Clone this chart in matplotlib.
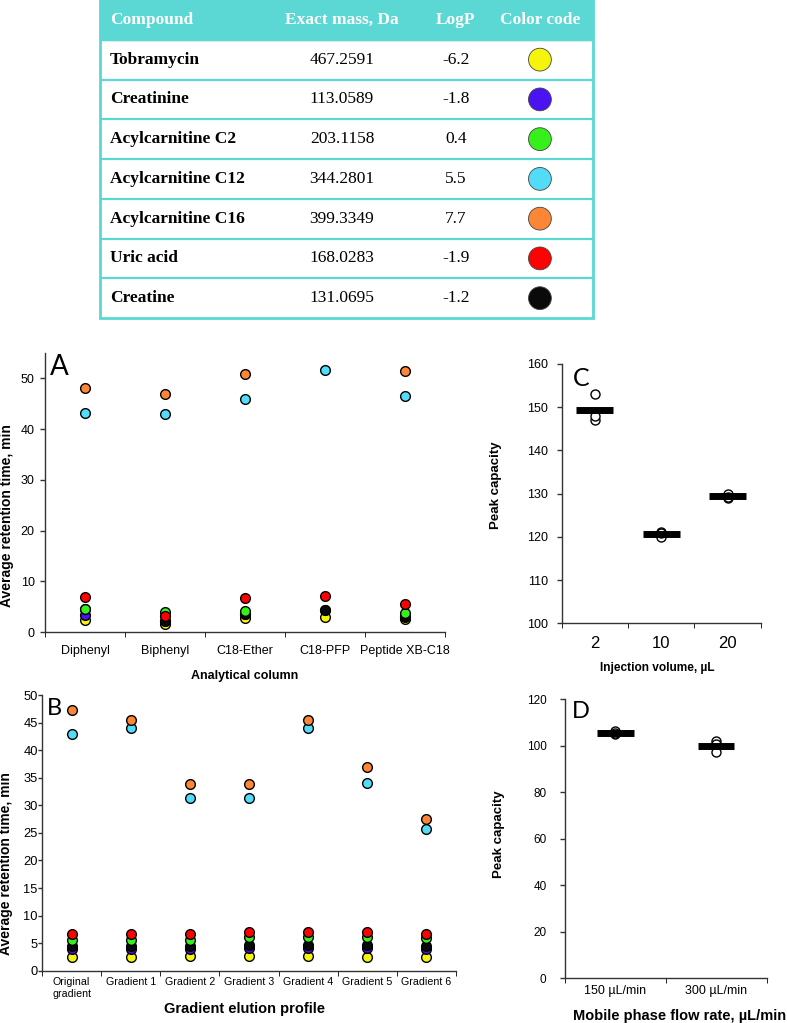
import numpy as np
import matplotlib.pyplot as plt
from matplotlib.patches import Rectangle

plt.rcParams['font.family'] = ['Liberation Sans', 'DejaVu Sans']

# table
compounds = ['Tobramycin', 'Creatinine', 'Acylcarnitine C2', 'Acylcarnitine C12',
             'Acylcarnitine C16', 'Uric acid', 'Creatine']
exact_mass = [467.2591, 113.0589, 203.1158, 344.2801, 399.3349, 168.0283, 131.0695]
log_p = [-6.2, -1.8, 0.4, 5.5, 7.7, -1.9, -1.2]
colors = ['#f5f50a', '#4b12f2', '#36f01c', '#52dcf8', '#fb8636', '#fc0202', '#0a0a0a']
header = ['Compound', 'Exact mass, Da', 'LogP', 'Color code']

# panel A: retention time per analytical column
columns = ['Diphenyl', 'Biphenyl', 'C18-Ether', 'C18-PFP', 'Peptide XB-C18']
a_tobramycin = [2.4, 1.5, 2.7, 2.9, 2.6]
a_creatinine = [3.3, 2.1, 3.6, 4.3, 3.0]
a_c2 = [4.6, 4.0, 4.1, np.nan, 3.8]
a_c12 = [43.2, 43.0, 45.9, 51.6, 46.5]
a_c16 = [48.1, 46.9, 50.9, np.nan, 51.5]
a_uric = [6.9, 3.1, 6.8, 7.1, 5.5]
a_creatine = [4.6, 2.2, 3.6, 4.4, 3.1]

# panel B: retention time per gradient
gradients = ['Original\ngradient', 'Gradient 1', 'Gradient 2', 'Gradient 3',
             'Gradient 4', 'Gradient 5', 'Gradient 6']
b_tobramycin = [2.5, 2.5, 2.6, 2.6, 2.6, 2.5, 2.5]
b_creatinine = [4.0, 4.0, 4.0, 4.1, 4.1, 4.1, 4.0]
b_c2 = [5.6, 5.5, 5.5, 6.1, 6.1, 6.1, 5.9]
b_c12 = [42.9, 44.0, 31.3, 31.3, 44.0, 34.0, 25.7]
b_c16 = [47.3, 45.5, 33.8, 33.8, 45.5, 36.9, 27.5]
b_uric = [6.6, 6.6, 6.7, 7.0, 7.0, 7.0, 6.7]
b_creatine = [4.5, 4.5, 4.5, 4.6, 4.6, 4.6, 4.4]

# panel C: peak capacity vs injection volume
inj_volumes = ['2', '10', '20']
c_reps = [[153.0, 147.1, 148.0], [121.2, 120.0, 120.9], [130.0, 129.0, 129.3]]

# panel D: peak capacity vs flow rate
flow_rates = ['150 µL/min', '300 µL/min']
d_reps = [[106.2, 105.0, 105.5], [101.8, 97.2, 100.5]]

teal = '#5bd8d4'
spine_col = '#333333'

fig = plt.figure(figsize=(7.87, 10.23), dpi=100)

# ---------------- table
ax_t = fig.add_axes([0.127, 0.6891, 0.6264, 0.3109])
ax_t.set_xlim(0, 1)
ax_t.set_ylim(8, 0)
ax_t.axis('off')
ax_t.add_patch(Rectangle((0, 0), 1, 1, color=teal, clip_on=False))
ax_t.add_patch(Rectangle((0, 0), 1, 8, fill=False, edgecolor=teal, lw=2, clip_on=False))
ax_t.hlines(np.arange(1, 8), 0, 1, color=teal, lw=1.6)

col_x = [0.02, 0.491, 0.722, 0.8925]
serif = 'Liberation Serif'
for j, h in enumerate(header):
    ax_t.text(col_x[j], 0.5, h, ha='left' if j == 0 else 'center', va='center',
              color='white', fontsize=12.5, fontweight='bold', family=serif)
for i, name in enumerate(compounds):
    y = i + 1.5
    ax_t.text(col_x[0], y, name, ha='left', va='center', fontsize=12.5,
              fontweight='bold', family=serif)
    ax_t.text(col_x[1], y, f'{exact_mass[i]:.4f}', ha='center', va='center',
              fontsize=12.5, family=serif)
    ax_t.text(col_x[2], y, f'{log_p[i]}', ha='center', va='center',
              fontsize=12.5, family=serif)
ax_t.scatter([col_x[3]] * len(compounds), np.arange(len(compounds)) + 1.5, s=270,
             c=colors, edgecolors='#444444', linewidths=0.6, clip_on=False, zorder=3)


def style(ax):
    for s in ['top', 'right']:
        ax.spines[s].set_visible(False)
    for s in ['left', 'bottom']:
        ax.spines[s].set_color(spine_col)
        ax.spines[s].set_linewidth(1.0)
    ax.tick_params(colors=spine_col, labelcolor='black', width=1.0)


def category_axis(ax, labels, fs, pad):
    n = len(labels)
    ax.set_xlim(0.5, n + 0.5)
    ax.set_xticks(np.arange(1, n + 1))
    ax.set_xticklabels(labels, fontsize=fs)
    ax.set_xticks(np.arange(0.5, n + 1), minor=True)
    ax.tick_params(axis='x', which='major', length=0, pad=pad)
    ax.tick_params(axis='x', which='minor', length=3.5, direction='out')


# drawing order so the overlaps look like the original
order_idx = [0, 1, 6, 2, 3, 4, 5]

# ---------------- panel A
ax_a = fig.add_axes([0.0572, 0.3822, 0.5083, 0.2727])
style(ax_a)
series_a = [a_tobramycin, a_creatinine, a_c2, a_c12, a_c16, a_uric, a_creatine]
xa = np.arange(1, len(columns) + 1)
for k in order_idx:
    ax_a.plot(xa, series_a[k], 'o', ls='none', ms=7, mfc=colors[k], mec='black', mew=1.0,
              clip_on=False)
category_axis(ax_a, columns, 9, 9)
ax_a.set_ylim(0, 55)
ax_a.set_yticks(np.arange(0, 51, 10))
ax_a.tick_params(axis='y', labelsize=9, length=3.5, pad=4)
ax_a.set_ylabel('Average retention time, min', fontsize=10, fontweight='bold')
ax_a.yaxis.set_label_coords(-0.078, 0.416)
ax_a.set_xlabel('Analytical column', fontsize=9, fontweight='bold')
ax_a.xaxis.set_label_coords(0.5, -0.136)
ax_a.text(0.0125, 0.997, 'A', transform=ax_a.transAxes, fontsize=20, va='top',
          ha='left', family='Lato')

# ---------------- panel B
ax_b = fig.add_axes([0.0534, 0.0511, 0.5261, 0.2695])
style(ax_b)
series_b = [b_tobramycin, b_creatinine, b_c2, b_c12, b_c16, b_uric, b_creatine]
xb = np.arange(1, len(gradients) + 1)
for k in order_idx:
    ax_b.plot(xb, series_b[k], 'o', ls='none', ms=7, mfc=colors[k], mec='black', mew=1.0,
              clip_on=False)
category_axis(ax_b, gradients, 7.7, 4.5)
ax_b.set_ylim(0, 50)
ax_b.set_yticks(np.arange(0, 51, 5))
ax_b.tick_params(axis='y', labelsize=9.3, length=3, pad=0)
ax_b.set_ylabel('Average retention time, min', fontsize=10, fontweight='bold')
ax_b.yaxis.set_label_coords(-0.071, 0.39)
ax_b.set_xlabel('Gradient elution profile', fontsize=10.5, fontweight='bold')
ax_b.xaxis.set_label_coords(0.49, -0.112)
ax_b.text(0.012, 0.988, 'B', transform=ax_b.transAxes, fontsize=17, va='top',
          ha='left', family='Lato')

# ---------------- panel C
ax_c = fig.add_axes([0.7137, 0.3907, 0.2529, 0.2535])
style(ax_c)
for i, reps in enumerate(c_reps):
    ax_c.plot([i + 1] * len(reps), reps, 'o', ls='none', ms=6.5, mfc='white',
              mec='black', mew=1.0, zorder=2)
    ax_c.hlines(np.mean(reps), i + 1 - 0.28, i + 1 + 0.28, color='black', lw=5, zorder=3)
category_axis(ax_c, inj_volumes, 12, 9)
ax_c.set_ylim(100, 160)
ax_c.set_yticks(np.arange(100, 161, 10))
ax_c.tick_params(axis='y', labelsize=9, length=3.5, pad=6.5)
ax_c.set_ylabel('Peak capacity', fontsize=9.5, fontweight='bold')
ax_c.yaxis.set_label_coords(-0.302, 0.531)
ax_c.set_xlabel('Injection volume, µL', fontsize=8.6, fontweight='bold')
ax_c.xaxis.set_label_coords(0.48, -0.149)
ax_c.text(0.055, 0.99, 'C', transform=ax_c.transAxes, fontsize=18, va='top',
          ha='left', family='Lato')

# ---------------- panel D
ax_d = fig.add_axes([0.7179, 0.0437, 0.2563, 0.2730])
style(ax_d)
for i, reps in enumerate(d_reps):
    ax_d.plot([i + 1] * len(reps), reps, 'o', ls='none', ms=6.5, mfc='white',
              mec='black', mew=1.0, zorder=2)
    ax_d.hlines(np.mean(reps), i + 1 - 0.18, i + 1 + 0.18, color='black', lw=5, zorder=3)
category_axis(ax_d, flow_rates, 9, 5)
ax_d.set_ylim(0, 120)
ax_d.set_yticks(np.arange(0, 121, 20))
ax_d.tick_params(axis='y', labelsize=8.5, length=3.3, pad=10)
ax_d.set_ylabel('Peak capacity', fontsize=9.5, fontweight='bold')
ax_d.yaxis.set_label_coords(-0.295, 0.515)
ax_d.set_xlabel('Mobile phase flow rate, µL/min', fontsize=10.5, fontweight='bold')
ax_d.xaxis.set_label_coords(0.57, -0.11)
ax_d.text(0.035, 0.992, 'D', transform=ax_d.transAxes, fontsize=17, va='top',
          ha='left', family='Lato')

fig.savefig('out.png', dpi=100)
